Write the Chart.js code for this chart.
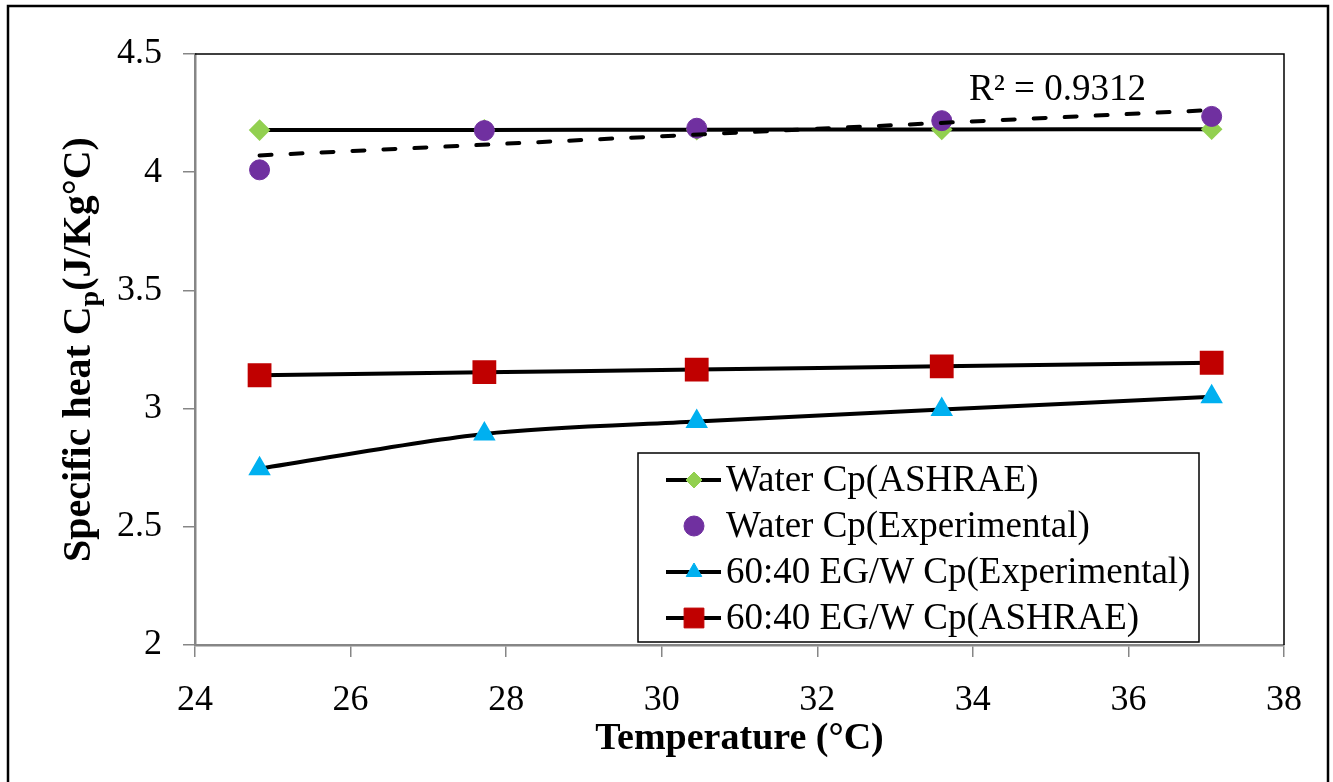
<!DOCTYPE html>
<html>
<head>
<meta charset="utf-8">
<script src="https://cdn.jsdelivr.net/npm/chart.js@4.4.1/dist/chart.umd.min.js"></script>
<style>
  html, body { margin: 0; padding: 0; background: #fff; }
  #wrap { width: 1333px; height: 782px; }
</style>
</head>
<body>
<div id="wrap"><canvas id="chart" width="1333" height="782"></canvas></div>
<script>
// values
const temps = [24.83, 27.72, 30.45, 33.6, 37.07];
const waterAshrae = [4.178, 4.179, 4.18, 4.181, 4.182];
const waterExp = [4.01, 4.176, 4.186, 4.218, 4.236];
const egExp = [2.746, 2.893, 2.945, 2.996, 3.05];
const egAshrae = [3.141, 3.154, 3.165, 3.179, 3.194];
// linear trendline of the experimental water data
const trendX = [24.83, 37.07];
const trendY = [4.071, 4.263];
const trendLabel = "R² = 0.9312";

const serif = '"Liberation Serif", "Times New Roman", serif';
const pts = (xs, ys) => xs.map((x, i) => ({ x, y: ys[i] }));

// frame, plot border, axis titles and R² label
const decor = {
  id: "decor",
  beforeDraw(chart) {
    const ctx = chart.ctx;
    ctx.save();
    ctx.fillStyle = "#fff";
    ctx.fillRect(0, 0, chart.width, chart.height);
    ctx.strokeStyle = "#000";
    ctx.lineWidth = 2.5;
    ctx.strokeRect(8, 6, 1320, 800);
    ctx.restore();
  },
  afterDraw(chart) {
    const ctx = chart.ctx;
    const a = chart.chartArea;
    ctx.save();
    // top and right edges of the plot area
    ctx.strokeStyle = "#000";
    ctx.lineWidth = 1.5;
    ctx.beginPath();
    ctx.moveTo(a.left, a.top);
    ctx.lineTo(a.right, a.top);
    ctx.lineTo(a.right, a.bottom);
    ctx.stroke();

    ctx.fillStyle = "#000";
    // x title
    ctx.font = "bold 38px " + serif;
    ctx.textAlign = "center";
    ctx.textBaseline = "alphabetic";
    ctx.fillText("Temperature (°C)", (a.left + a.right) / 2, 749);

    // y title with subscript p
    const main1 = "Specific heat C";
    const sub = "p";
    const main2 = "(J/Kg°C)";
    const bigFont = "bold 40px " + serif;
    const smallFont = "bold 28px " + serif;
    ctx.font = bigFont;
    const w1 = ctx.measureText(main1).width;
    const w3 = ctx.measureText(main2).width;
    ctx.font = smallFont;
    const w2 = ctx.measureText(sub).width;
    const total = w1 + w2 + w3;
    ctx.translate(90, (a.top + a.bottom) / 2);
    ctx.rotate(-Math.PI / 2);
    ctx.textAlign = "left";
    let x = -total / 2;
    ctx.font = bigFont;
    ctx.fillText(main1, x, 0);
    x += w1;
    ctx.font = smallFont;
    ctx.fillText(sub, x, 8);
    x += w2;
    ctx.font = bigFont;
    ctx.fillText(main2, x, 0);
    ctx.restore();

    // trendline label
    ctx.save();
    ctx.fillStyle = "#000";
    ctx.font = "37px " + serif;
    ctx.textAlign = "left";
    ctx.fillText(trendLabel, 969, 100);
    ctx.restore();
  }
};

// legend box inside the plot
const boxLegend = {
  id: "boxLegend",
  afterDraw(chart) {
    const ctx = chart.ctx;
    const rows = chart.data.datasets.filter(d => d.showInLegend);
    ctx.save();
    ctx.strokeStyle = "#000";
    ctx.lineWidth = 1.5;
    ctx.fillStyle = "#fff";
    ctx.fillRect(638, 453, 561, 189);
    ctx.strokeRect(638, 453, 561, 189);
    ctx.font = "37px " + serif;
    ctx.textBaseline = "middle";
    rows.forEach((d, i) => {
      const y = 480 + i * 46;
      if (d.showLine !== false) {
        ctx.strokeStyle = "#000";
        ctx.lineWidth = 4;
        ctx.beginPath();
        ctx.moveTo(666, y);
        ctx.lineTo(721, y);
        ctx.stroke();
      }
      ctx.fillStyle = d.pointBackgroundColor;
      ctx.strokeStyle = d.pointBorderColor;
      ctx.lineWidth = 1;
      Chart.helpers.drawPoint(ctx, {
        pointStyle: d.pointStyle,
        radius: d.pointRadius,
        rotation: 0,
        borderWidth: 1
      }, 694, y);
      ctx.fillStyle = "#000";
      ctx.fillText(d.label, 726, y + 1);
    });
    ctx.restore();
  }
};

const tickFont = { family: serif, size: 36 };

new Chart(document.getElementById("chart").getContext("2d"), {
  type: "line",
  data: {
    datasets: [
      {
        label: "Linear trend",
        data: pts(trendX, trendY),
        borderColor: "#000",
        borderWidth: 4,
        borderDash: [12, 19],
        borderCapStyle: "round",
        pointRadius: 0,
        order: 0
      },
      {
        label: "Water Cp(ASHRAE)",
        data: pts(temps, waterAshrae),
        borderColor: "#000",
        borderWidth: 4,
        tension: 0.3,
        pointStyle: "rectRot",
        pointRadius: 8,
        pointBackgroundColor: "#92D050",
        pointBorderColor: "#92D050",
        showInLegend: true,
        order: 2
      },
      {
        label: "Water Cp(Experimental)",
        data: pts(temps, waterExp),
        showLine: false,
        pointStyle: "circle",
        pointRadius: 10,
        pointBackgroundColor: "#7030A0",
        pointBorderColor: "#7030A0",
        showInLegend: true,
        order: 1
      },
      {
        label: "60:40 EG/W Cp(Experimental)",
        data: pts(temps, egExp),
        borderColor: "#000",
        borderWidth: 4,
        tension: 0.3,
        pointStyle: "triangle",
        pointRadius: 9,
        pointBackgroundColor: "#00B0F0",
        pointBorderColor: "#00B0F0",
        showInLegend: true,
        order: 3
      },
      {
        label: "60:40 EG/W Cp(ASHRAE)",
        data: pts(temps, egAshrae),
        borderColor: "#000",
        borderWidth: 4,
        tension: 0.3,
        pointStyle: "rect",
        pointRadius: 14,
        pointBackgroundColor: "#C00000",
        pointBorderColor: "#C00000",
        showInLegend: true,
        order: 4
      }
    ]
  },
  options: {
    responsive: false,
    animation: false,
    layout: { padding: { top: 54, right: 49, left: 0, bottom: 0 } },
    plugins: {
      legend: { display: false },
      tooltip: { enabled: false }
    },
    scales: {
      x: {
        type: "linear",
        min: 24,
        max: 38,
        afterFit: s => { s.height = 137; },
        ticks: { stepSize: 2, font: tickFont, color: "#000", padding: 22, maxRotation: 0 },
        grid: { drawOnChartArea: false, color: "#868686", lineWidth: 1.5, tickLength: 12 },
        border: { color: "#868686", width: 2.5 }
      },
      y: {
        min: 2,
        max: 4.5,
        afterFit: s => { s.width = 195; },
        ticks: { stepSize: 0.5, font: tickFont, color: "#000", padding: 21, callback: v => String(v) },
        grid: { drawOnChartArea: false, color: "#868686", lineWidth: 1.5, tickLength: 12 },
        border: { color: "#868686", width: 2.5 }
      }
    }
  },
  plugins: [decor, boxLegend]
});
</script>
</body>
</html>
